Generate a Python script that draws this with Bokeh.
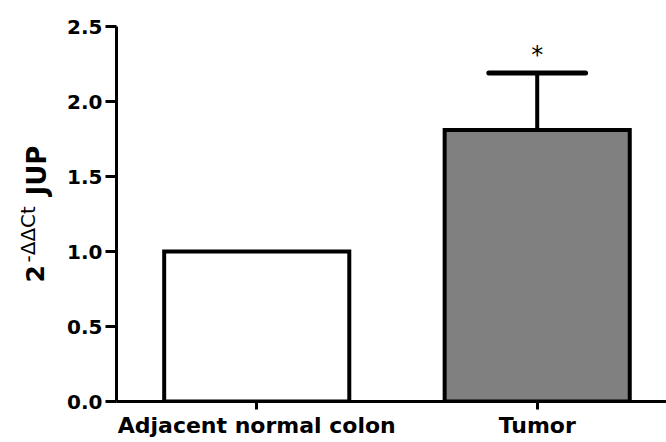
import math
from bokeh.plotting import figure
from bokeh.layouts import row
from bokeh.models import ColumnDataSource, Range1d, FixedTicker
from bokeh.core.properties import value
from bokeh.embed import file_html
from bokeh.resources import INLINE

# ---- data ----
categories = ["Adjacent normal colon", "Tumor"]
positions = [0.5, 1.5]
means = [1.0, 1.81]
errors_up = [0.0, 0.38]
fills = ["#ffffff", "#808080"]
y_ticks = [0.0, 0.5, 1.0, 1.5, 2.0, 2.5]
y_tick_labels = ["0.0", "0.5", "1.0", "1.5", "2.0", "2.5"]
significance = ["", "*"]

# y-axis title pieces: 2^(-ΔΔCt) JUP
ylab_text = ["2", "-\u0394\u0394Ct", "JUP"]
ylab_size = ["25px", "20px", "26px"]
ylab_style = ["bold", "normal", "bold"]

FONT = "DejaVu Sans"
LEFT_W = 56
TOP, BOTTOM = 26, 41
H = 442

# ---- left strip holding the rotated y-axis title (its frame is aligned with the chart's) ----
lab = figure(width=LEFT_W, height=H, output_backend="svg", toolbar_location=None,
             x_range=Range1d(0, LEFT_W), y_range=Range1d(BOTTOM, H - TOP),
             x_axis_type=None, y_axis_type=None,
             min_border_left=0, min_border_right=0, min_border_top=TOP, min_border_bottom=BOTTOM)
lab.outline_line_color = None
lab.xgrid.visible = False
lab.ygrid.visible = False
# centre x (px from left) and start y (px from bottom) of each piece
lab_x = [34, 27, 36]
lab_y = [H - 282, H - 262, H - 195]
for t, sz, stl, x, y in zip(ylab_text, ylab_size, ylab_style, lab_x, lab_y):
    lab.text(x=[x], y=[y], text=[t], angle=math.pi / 2, text_align="left",
             text_baseline="middle", text_font=value(FONT), text_font_size=sz,
             text_font_style=stl, text_color="black")

# ---- main chart ----
p = figure(width=666 - LEFT_W, height=H, output_backend="svg", toolbar_location=None,
           x_range=Range1d(0, 1.961), y_range=Range1d(0, 2.5),
           min_border_left=116 - LEFT_W, min_border_right=0, min_border_top=TOP, min_border_bottom=BOTTOM)
p.outline_line_color = None
p.xgrid.visible = False
p.ygrid.visible = False
p.background_fill_color = "white"
p.border_fill_color = "white"

src = ColumnDataSource(dict(x=positions, top=means, fill=fills))
p.vbar(x="x", top="top", bottom=0, width=0.66, source=src, fill_color="fill",
       line_color="black", line_width=4, line_join="miter")

# error bars (upper only)
tops = [m + e for m, e in zip(means, errors_up)]
ex = [x for x, e in zip(positions, errors_up) if e > 0]
ey0 = [m for m, e in zip(means, errors_up) if e > 0]
ey1 = [t for t, e in zip(tops, errors_up) if e > 0]
cap = 0.345
p.segment(x0=ex, y0=ey0, x1=ex, y1=ey1, line_color="black", line_width=4)
p.segment(x0=[x - cap / 2 for x in ex], y0=ey1, x1=[x + cap / 2 for x in ex], y1=ey1,
          line_color="black", line_width=5, line_cap="round")

# significance star
sx = [x for x, s in zip(positions, significance) if s]
sy = [t for t, s in zip(tops, significance) if s]
st = [s for s in significance if s]
p.text(x=sx, y=sy, text=st, text_align="center", text_baseline="middle", y_offset=-18,
       text_font=value(FONT), text_font_size="24px", text_color="black")

# axes
for ax in (p.xaxis[0], p.yaxis[0]):
    ax.axis_line_width = 3
    ax.axis_line_color = "black"
    ax.major_tick_line_width = 3
    ax.major_tick_line_color = "black"
    ax.minor_tick_line_color = None
    ax.major_tick_in = 0
    ax.major_label_text_font = FONT
    ax.major_label_text_font_style = "bold"
    ax.major_label_text_color = "black"

p.yaxis.ticker = FixedTicker(ticks=y_ticks)
p.yaxis.major_label_overrides = {t: l for t, l in zip(y_ticks, y_tick_labels)}
p.yaxis.major_tick_out = 11
p.yaxis.major_label_text_font_size = "20px"
p.yaxis.major_label_standoff = 3

p.xaxis.ticker = FixedTicker(ticks=positions)
p.xaxis.major_label_overrides = {x: c for x, c in zip(positions, categories)}
p.xaxis.major_tick_out = 8
p.xaxis.major_label_text_font_size = "22px"
p.xaxis.major_label_standoff = 3

layout = row(lab, p, spacing=0)
open("out.html", "w").write(file_html(layout, INLINE))
